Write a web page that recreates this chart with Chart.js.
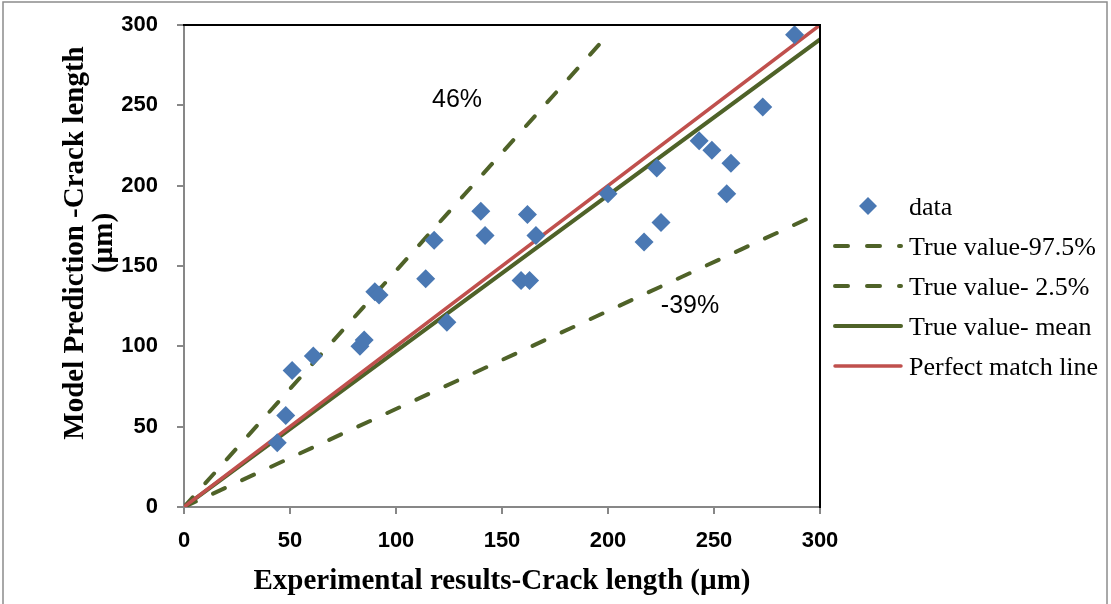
<!DOCTYPE html>
<html>
<head>
<meta charset="utf-8">
<script src="https://cdn.jsdelivr.net/npm/chart.js@4.4.1/dist/chart.umd.min.js"></script>
<style>
  html, body { margin: 0; padding: 0; background: #fff; }
  canvas { display: block; }
</style>
</head>
<body>
<canvas id="chart" width="1111" height="604"></canvas>
<script>
// measured points: experimental vs predicted crack length (µm)
const expX  = [44, 48, 51, 61, 83, 85, 90, 92, 114, 118, 124, 140, 142, 159, 162, 163, 166, 200, 217, 223, 225, 243, 249, 256, 258, 273, 288];
const predY = [40, 57, 85, 94, 100, 104, 134, 132, 142, 166, 115, 184, 169, 141, 182, 141, 169, 195, 165, 211, 177, 228, 222, 195, 214, 249, 294];

// bound / reference lines
const upperX = [0, 200];   const upperY = [0, 294];   // 97.5%
const lowerX = [0, 300];   const lowerY = [0, 183];   // 2.5%
const meanX = [0, 300];    const meanY = [0, 291];
const perfectX = [0, 300]; const perfectY = [0, 300];

const tickValues = [0, 50, 100, 150, 200, 250, 300];

const seriesNames = ['data', 'True value-97.5%', 'True value- 2.5%', 'True value- mean', 'Perfect match line'];
const xTitle = 'Experimental results-Crack length (µm)';
const yTitle = ['Model Prediction -Crack length', '(µm)'];

const BLUE = '#4a78b3';
const GREEN = '#4f6228';
const RED = '#c0504d';
const GRAY = '#878787';

const toPoints = (xs, ys) => xs.map((x, i) => ({ x: x, y: ys[i] }));

// legend, annotations, frame and y title
const decor = {
  id: 'decor',
  afterDraw(chart) {
    const { ctx, chartArea: a } = chart;
    ctx.save();

    // outer frame
    ctx.strokeStyle = '#8c8c8c';
    ctx.lineWidth = 1.5;
    ctx.strokeRect(3, 2, 1104, 620);

    // top and right border of plot area
    ctx.strokeStyle = '#000';
    ctx.lineWidth = 2;
    ctx.beginPath();
    ctx.moveTo(a.left - 1, a.top);
    ctx.lineTo(a.right, a.top);
    ctx.lineTo(a.right, a.bottom + 1);
    ctx.stroke();

    // percentage labels
    ctx.fillStyle = '#000';
    ctx.font = '25px "Liberation Sans"';
    ctx.textAlign = 'center';
    ctx.textBaseline = 'middle';
    ctx.fillText('46%', 457, 100);
    ctx.fillText('-39%', 690, 306);

    // y axis title
    ctx.font = 'bold 29px "Liberation Serif"';
    ctx.textBaseline = 'alphabetic';
    ctx.translate(83, 243);
    ctx.rotate(-Math.PI / 2);
    ctx.fillText(yTitle[0], 0, 0);
    ctx.fillText(yTitle[1], 0, 29);
    ctx.setTransform(1, 0, 0, 1, 0, 0);

    // legend
    const rows = [206, 246, 286, 326, 366];
    const ds = chart.data.datasets;
    ctx.font = '26px "Liberation Serif"';
    ctx.textAlign = 'left';
    ctx.textBaseline = 'middle';
    rows.forEach((y, i) => {
      const d = ds[i];
      if (i === 0) {
        const r = 9;
        ctx.fillStyle = d.backgroundColor;
        ctx.beginPath();
        ctx.moveTo(868, y - r);
        ctx.lineTo(868 + r, y);
        ctx.lineTo(868, y + r);
        ctx.lineTo(868 - r, y);
        ctx.closePath();
        ctx.fill();
      } else {
        ctx.strokeStyle = d.borderColor;
        ctx.lineWidth = d.borderWidth;
        ctx.lineCap = d.borderCapStyle || 'butt';
        ctx.setLineDash(d.borderDash || []);
        ctx.beginPath();
        ctx.moveTo(835, y);
        ctx.lineTo(901, y);
        ctx.stroke();
        ctx.setLineDash([]);
      }
      ctx.fillStyle = '#000';
      ctx.fillText(seriesNames[i], 909, y + 2);
    });

    ctx.restore();
  }
};

const lineSet = (name, xs, ys, color, width, dash, order) => ({
  label: name,
  data: toPoints(xs, ys),
  showLine: true,
  borderColor: color,
  backgroundColor: color,
  borderWidth: width,
  borderDash: dash,
  borderCapStyle: 'round',
  pointRadius: 0,
  pointHoverRadius: 0,
  order: order
});

new Chart(document.getElementById('chart'), {
  type: 'scatter',
  data: {
    datasets: [
      {
        label: seriesNames[0],
        data: toPoints(expX, predY),
        pointStyle: 'rectRot',
        pointRadius: 9.5,
        pointHoverRadius: 9.5,
        backgroundColor: BLUE,
        borderColor: BLUE,
        borderWidth: 0,
        order: 0
      },
      lineSet(seriesNames[1], upperX, upperY, GREEN, 4, [13, 19], 4),
      lineSet(seriesNames[2], lowerX, lowerY, GREEN, 4, [13, 19], 3),
      lineSet(seriesNames[3], meanX, meanY, GREEN, 4, [], 2),
      lineSet(seriesNames[4], perfectX, perfectY, RED, 3.5, [], 1)
    ]
  },
  options: {
    responsive: false,
    animation: false,
    layout: { padding: { left: 0, top: 25, right: 291, bottom: 0 } },
    plugins: {
      legend: { display: false },
      tooltip: { enabled: false }
    },
    scales: {
      x: {
        type: 'linear',
        min: 0,
        max: 300,
        afterBuildTicks: s => { s.ticks = tickValues.map(v => ({ value: v })); },
        afterFit: s => { s.height = 97; s.paddingLeft = 0; s.paddingRight = 0; },
        grid: { drawOnChartArea: false, drawTicks: true, tickLength: 7, color: GRAY, lineWidth: 2 },
        border: { display: true, color: GRAY, width: 2 },
        ticks: {
          color: '#000',
          padding: 14,
          maxRotation: 0,
          font: { family: 'Liberation Sans', size: 22, weight: 'bold' }
        },
        title: {
          display: true,
          text: xTitle,
          color: '#000',
          padding: { top: 0, bottom: 5 },
          font: { family: 'Liberation Serif', size: 29, weight: 'bold' }
        }
      },
      y: {
        type: 'linear',
        min: 0,
        max: 300,
        afterBuildTicks: s => { s.ticks = tickValues.map(v => ({ value: v })); },
        afterFit: s => { s.width = 184; s.paddingTop = 0; s.paddingBottom = 0; },
        grid: { drawOnChartArea: false, drawTicks: true, tickLength: 7, color: GRAY, lineWidth: 2 },
        border: { display: true, color: GRAY, width: 2 },
        ticks: {
          color: '#000',
          padding: 19,
          font: { family: 'Liberation Sans', size: 22, weight: 'bold' }
        }
      }
    }
  },
  plugins: [decor]
});
</script>
</body>
</html>
